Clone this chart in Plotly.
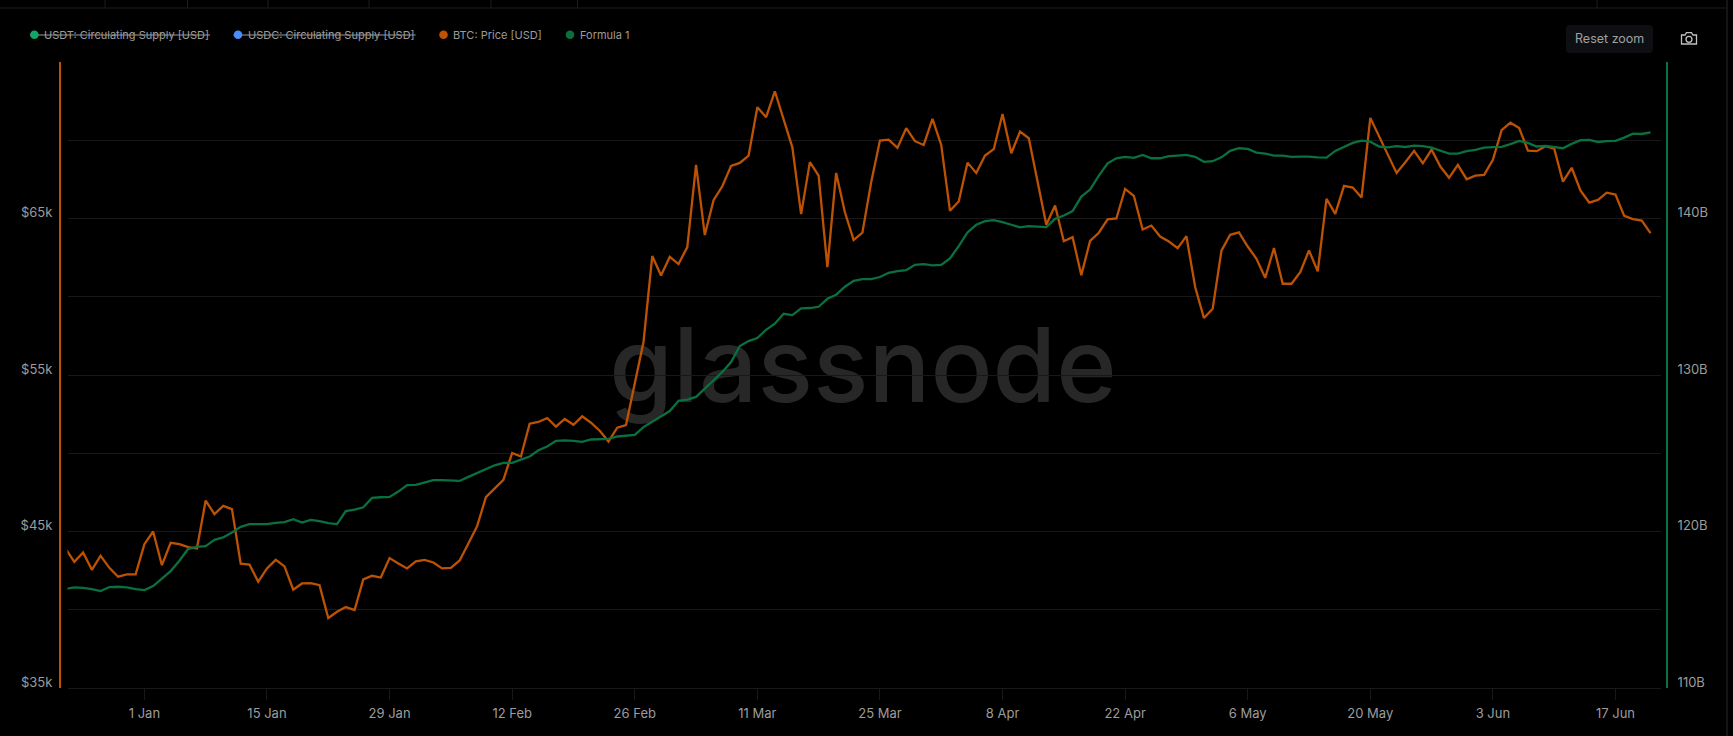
import pandas as pd
import plotly.graph_objects as go

W, H = 1733, 736

start_date = "2023-12-23"
btc_price_k = [
    43.91,43.06,43.66,42.55,43.45,42.68,42.11,42.26,42.26,
    44.19,45.00,42.85,44.28,44.19,44.00,43.91,46.98,46.11,46.64,46.43,42.94,42.89,41.79,42.64,43.19,42.77,41.28,41.68,41.70,41.57,39.47,39.87,40.17,39.98,41.94,42.17,42.06,43.30,42.96,42.64,
    43.09,43.19,43.02,42.64,42.68,43.15,44.23,45.34,47.19,47.77,48.30,50.02,49.79,51.89,52.00,52.25,51.70,52.19,51.82,52.36,51.95,51.44,50.75,51.63,51.80,54.45,57.11,62.60,61.36,
    62.55,62.09,63.17,68.43,63.94,66.17,67.06,68.36,68.55,69.02,72.11,71.47,73.13,71.36,69.55,65.28,68.60,67.74,61.89,67.91,65.40,63.62,64.09,67.32,69.98,70.04,69.51,70.77,69.94,69.70,71.36,
    69.70,65.49,66.09,68.57,67.91,69.02,69.43,71.68,69.17,70.55,70.13,67.32,64.60,65.83,63.55,63.81,61.38,63.57,64.09,64.94,65.00,66.89,66.45,64.30,64.55,63.85,63.53,63.11,63.87,60.62,
    58.64,59.23,62.94,63.96,64.11,63.21,62.43,61.21,63.11,60.83,60.83,61.57,62.96,61.62,66.26,65.30,67.09,66.98,66.34,71.43,70.26,69.13,67.91,68.60,69.32,68.53,69.40,68.32,67.60,68.43,67.51,
    67.74,67.79,68.75,70.65,71.12,70.78,69.34,69.30,69.62,69.47,67.35,68.24,66.80,66.02,66.19,66.65,66.53,65.17,64.96,64.87,64.07,
]
formula_1_b = [
    116.34,116.43,116.40,116.32,116.19,116.45,116.47,116.43,116.32,
    116.26,116.51,116.96,117.47,118.13,118.89,119.02,119.06,119.47,119.62,119.94,120.30,120.47,120.47,120.47,120.55,120.60,120.79,120.57,120.74,120.66,120.53,120.47,121.30,121.40,121.55,122.15,122.19,122.21,122.55,122.96,
    122.98,123.11,123.28,123.28,123.26,123.23,123.49,123.74,124.02,124.23,124.38,124.38,124.59,124.79,125.19,125.43,125.79,125.82,125.79,125.73,125.88,125.88,125.92,126.07,126.12,126.18,126.67,127.02,127.32,
    127.70,128.35,128.43,128.60,129.13,129.66,130.19,130.83,131.85,132.17,132.36,132.89,133.28,133.91,133.83,134.26,134.28,134.36,134.87,135.13,135.64,136.02,136.13,136.13,136.26,136.53,136.64,136.70,137.04,137.09,137.00,
    137.04,137.45,138.23,139.11,139.60,139.83,139.89,139.77,139.60,139.43,139.51,139.49,139.45,139.98,140.19,140.47,141.40,141.85,142.74,143.53,143.85,143.94,143.87,144.06,143.85,143.85,143.98,144.02,144.06,143.94,
    143.62,143.66,143.91,144.32,144.49,144.45,144.21,144.15,144.02,144.02,143.94,143.96,143.96,143.91,143.89,144.32,144.60,144.83,144.98,144.91,144.60,144.55,144.62,144.57,144.66,144.62,144.53,144.34,144.15,144.15,144.30,
    144.38,144.53,144.56,144.58,144.75,144.96,144.83,144.60,144.64,144.58,144.49,144.77,145.00,145.02,144.89,144.94,144.96,145.17,145.42,145.40,145.51,
]
assert len(btc_price_k) == 182 and len(formula_1_b) == 182, (len(btc_price_k), len(formula_1_b))
dates = pd.date_range(start_date, periods=182, freq="D")

x_tick_dates = ["2024-01-01","2024-01-15","2024-01-29","2024-02-12","2024-02-26","2024-03-11","2024-03-25","2024-04-08","2024-04-22","2024-05-06","2024-05-20","2024-06-03","2024-06-17"]
x_tick_labels = ["1 Jan","15 Jan","29 Jan","12 Feb","26 Feb","11 Mar","25 Mar","8 Apr","22 Apr","6 May","20 May","3 Jun","17 Jun"]
left_ticks = [35,40,45,50,55,60,65,70,75]
left_labels = ["$35k","","$45k","","$55k","","$65k","",""]
right_ticks = [110,115,120,125,130,135,140,145,150]
right_labels = ["110B","","120B","","130B","","140B","",""]
legend_names = ["USDT: Circulating Supply [USD]","USDC: Circulating Supply [USD]","BTC: Price [USD]","Formula 1"]

ORANGE, GREEN = "#bd5203", "#0a7040"
TEXT, GRID = "#9c9c9c", "#181818"
FONT = "Inter"
px = lambda v: v / W
py = lambda v: 1 - v / H

fig = go.Figure()
fig.add_trace(go.Scatter(x=dates, y=btc_price_k, mode="lines", name=legend_names[2], yaxis="y",
                         line=dict(color=ORANGE, width=2.3), hoverinfo="skip"))
fig.add_trace(go.Scatter(x=dates, y=formula_1_b, mode="lines", name=legend_names[3], yaxis="y2",
                         line=dict(color=GREEN, width=2.3), hoverinfo="skip"))

shapes, annotations = [], []

def pline(x0, y0, x1, y1, color, width=1):
    shapes.append(dict(type="line", xref="paper", yref="paper", x0=px(x0), y0=py(y0), x1=px(x1), y1=py(y1),
                       line=dict(color=color, width=width), layer="below"))

def label(x, y, text, anchor="left", size=12, color=TEXT):
    annotations.append(dict(xref="paper", yref="paper", x=px(x), y=py(y), text=text, showarrow=False,
                            xanchor=anchor, yanchor="middle", font=dict(family=FONT, size=size, color=color),
                            borderpad=0, xshift=0))

# watermark, under the lines
shapes.append(dict(type="rect", xref="paper", yref="paper", x0=px(600), x1=px(1126), y0=py(286), y1=py(436),
                   line=dict(width=0), fillcolor="rgba(0,0,0,0)", layer="below",
                   label=dict(text="glassnode", textposition="middle center",
                              font=dict(family=FONT, size=103, color="#272727", weight=500))))

# page frame
pline(0, 8, 1727, 8, "#1c1c1c")
for vx in [105, 187.5, 268, 369, 491, 577.5, 1597]:
    pline(vx, 0, vx, 8, "#1c1c1c")
pline(1727, 0, 1727, H, "#141414", 2)

# legend
legend_dots = [34.4, 238, 443.5, 570]
legend_colors = ["#10a86a", "#4a8cff", ORANGE, GREEN]
legend_ends = [210, 415.6]
for i, name in enumerate(legend_names):
    cx = legend_dots[i]
    shapes.append(dict(type="circle", xref="paper", yref="paper", x0=px(cx-4.3), x1=px(cx+4.3), y0=py(39), y1=py(30.4),
                       fillcolor=legend_colors[i], line=dict(width=0), layer="above"))
    label(cx + 8.6, 34.5, name, size=11)
    if i < 2:
        pline(cx - 4.5, 35, legend_ends[i], 35, "#9a9a9a", 1)

# reset zoom button
shapes.append(dict(type="path", xref="paper", yref="paper", layer="below", fillcolor="#0e0f13", line=dict(width=0),
                   path="M {} {} L {} {} Q {} {} {} {} L {} {} Q {} {} {} {} L {} {} Q {} {} {} {} L {} {} Q {} {} {} {} Z".format(
                       px(1570), py(25), px(1649), py(25), px(1653), py(25), px(1653), py(29),
                       px(1653), py(49), px(1653), py(53), px(1649), py(53),
                       px(1570), py(53), px(1566), py(53), px(1566), py(49),
                       px(1566), py(29), px(1566), py(25), px(1570), py(25))))
label(1609, 39, "Reset zoom", anchor="center", size=12.5, color="#a0a0a0")

# camera icon
cam = "#c0c0c0"
shapes.append(dict(type="path", xref="paper", yref="paper", layer="above", line=dict(color=cam, width=1.3),
                   path="M {} {} L {} {} L {} {} L {} {} L {} {} L {} {} L {} {} L {} {} Z".format(
                       px(1681.5), py(35), px(1685), py(35), px(1686.5), py(32.7), px(1691.5), py(32.7),
                       px(1693), py(35), px(1696.5), py(35), px(1696.5), py(44), px(1681.5), py(44))))
shapes.append(dict(type="circle", xref="paper", yref="paper", layer="above", line=dict(color=cam, width=1.3),
                   x0=px(1686), x1=px(1692), y0=py(42.3), y1=py(36.3)))

fig.update_layout(
    width=W, height=H, margin=dict(l=0, r=0, t=0, b=0, pad=0, autoexpand=False), autosize=False,
    paper_bgcolor="#000", plot_bgcolor="#000", showlegend=False, hovermode=False, dragmode=False,
    font=dict(family=FONT, size=12, color=TEXT),
    shapes=shapes, annotations=annotations,
    xaxis=dict(domain=[px(67.5), px(1661)], range=["2023-12-23 05:16", "2024-06-22 04:48"], type="date",
               tickvals=x_tick_dates, ticktext=x_tick_labels, ticks="outside", ticklen=11, tickwidth=1,
               tickcolor="#181818", showgrid=False, zeroline=False, showline=True, linecolor=GRID, linewidth=1,
               tickfont=dict(family=FONT, size=13, color=TEXT), ticklabelstandoff=2, anchor="y", fixedrange=True,
               automargin=False),
    yaxis=dict(domain=[py(688), py(62)], range=[35, 75], tickvals=left_ticks, ticktext=left_labels,
               showgrid=True, gridcolor=GRID, gridwidth=1, zeroline=False, showline=True, linecolor=ORANGE, linewidth=2,
               anchor="free", position=px(60), side="left", ticks="", ticklabelstandoff=4, ticklabelshift=-6,
               tickfont=dict(family=FONT, size=13, color=TEXT), fixedrange=True, automargin=False),
    yaxis2=dict(domain=[py(688), py(62)], range=[110, 150], tickvals=right_ticks, ticktext=right_labels,
                overlaying="y", side="right", anchor="free", position=px(1667), showgrid=False, zeroline=False,
                showline=True, linecolor=GREEN, linewidth=2, ticks="", ticklabelstandoff=7, ticklabelshift=-6,
                tickfont=dict(family=FONT, size=13, color=TEXT), fixedrange=True, automargin=False),
)

fig.write_html("out.html", config=dict(displayModeBar=False, responsive=False),
               post_script="document.body.style.margin='0';document.body.style.background='#000';document.documentElement.style.overflow='hidden';")
